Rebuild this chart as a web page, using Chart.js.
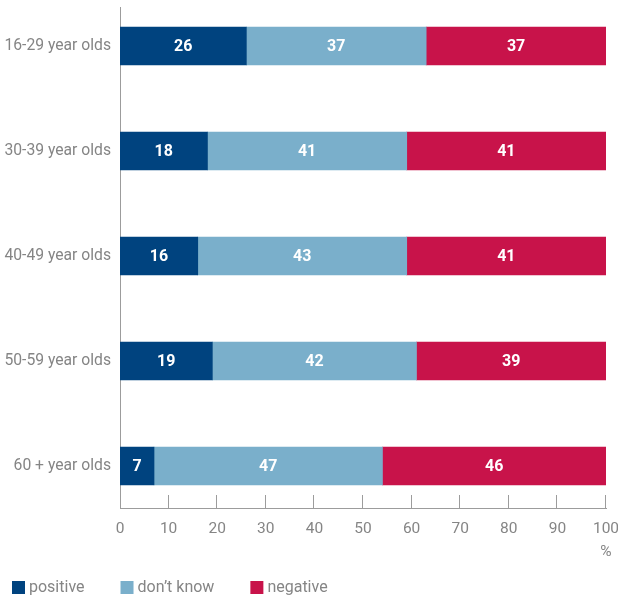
<!DOCTYPE html>
<html>
<head>
<meta charset="utf-8">
<script src="https://cdn.jsdelivr.net/npm/chart.js@4/dist/chart.umd.min.js"></script>
<style>
html,body{margin:0;padding:0;background:#fff;}
#wrap{width:618px;height:598px;}
</style>
</head>
<body>
<div id="wrap"><canvas id="c" width="618" height="598"></canvas></div>
<script>
const categories = ["16-29 year olds", "30-39 year olds", "40-49 year olds", "50-59 year olds", "60 + year olds"];
const positive = [26, 18, 16, 19, 7];
const dontKnow = [37, 41, 43, 42, 47];
const negative = [37, 41, 41, 39, 46];
const seriesNames = ["positive", "don\u2019t know", "negative"];
const seriesColors = ["#00437F", "#7AAFCB", "#C8134A"];
const xTicks = [0, 10, 20, 30, 40, 50, 60, 70, 80, 90, 100];

const FONT = "Roboto, 'Open Sans', sans-serif";
const GREY = "#858585";
const AXIS = "#9c9c9c";
const Y_MIN = -0.371, Y_MAX = 4.4;

function toPoints(arr){ return arr.map((v,i)=>({x:v, y:i})); }
function zeroPad(scale){
  scale.paddingTop = 0; scale.paddingBottom = 0;
  scale.paddingLeft = 0; scale.paddingRight = 0;
}

const valueLabels = {
  id: 'valueLabels',
  afterDatasetsDraw(chart){
    const ctx = chart.ctx;
    ctx.save();
    ctx.fillStyle = '#fff';
    ctx.font = "bold 16px " + FONT;
    ctx.textAlign = 'center';
    ctx.textBaseline = 'middle';
    chart.data.datasets.forEach((ds, di)=>{
      const meta = chart.getDatasetMeta(di);
      meta.data.forEach((el, i)=>{
        const p = el.getCenterPoint();
        ctx.fillText(String(ds.data[i].x), p.x, p.y + 1);
      });
    });
    ctx.restore();
  }
};

const innerTicks = {
  id: 'innerTicks',
  afterDraw(chart){
    const ctx = chart.ctx;
    const xs = chart.scales.x;
    const bottom = chart.chartArea.bottom;
    ctx.save();
    ctx.strokeStyle = AXIS;
    ctx.lineWidth = 1;
    xTicks.forEach(v=>{
      if (v === 0) return;
      const px = Math.round(xs.getPixelForValue(v)) - 0.5;
      ctx.beginPath();
      ctx.moveTo(px, bottom - 13);
      ctx.lineTo(px, bottom);
      ctx.stroke();
    });
    ctx.restore();
  }
};

const customLegend = {
  id: 'customLegend',
  afterDraw(chart){
    const ctx = chart.ctx;
    ctx.save();
    ctx.font = "16px " + FONT;
    ctx.textBaseline = 'middle';
    ctx.textAlign = 'left';
    let x = 12;
    const yTop = 581, box = 13;
    seriesNames.forEach((name, i)=>{
      ctx.fillStyle = seriesColors[i];
      ctx.fillRect(x, yTop, box, box);
      ctx.fillStyle = GREY;
      ctx.fillText(name, x + box + 4, yTop + box/2);
      x += box + 4 + ctx.measureText(name).width + 36;
    });
    ctx.restore();
  }
};

const datasets = [positive, dontKnow, negative].map((arr, i)=>({
  label: seriesNames[i],
  data: toPoints(arr),
  backgroundColor: seriesColors[i],
  borderWidth: 0,
  barThickness: 38
}));

new Chart(document.getElementById('c'), {
  type: 'bar',
  data: { datasets },
  options: {
    indexAxis: 'y',
    responsive: false,
    animation: false,
    layout: { padding: { top: 7, right: 12, left: 0, bottom: 0 } },
    plugins: { legend: { display: false }, tooltip: { enabled: false } },
    scales: {
      x: {
        type: 'linear',
        stacked: true,
        min: 0, max: 100,
        grid: { display: false, drawTicks: false },
        border: { display: true, color: AXIS, width: 1 },
        afterBuildTicks(scale){ scale.ticks = xTicks.map(v=>({value:v})); },
        afterFit(scale){ scale.height = 90; zeroPad(scale); },
        ticks: {
          color: GREY,
          padding: 9,
          maxRotation: 0,
          autoSkip: false,
          font: { family: FONT, size: 15.5, lineHeight: 1.5 },
          callback: (v)=> v === 100 ? ['100', '%'] : String(v)
        }
      },
      y: {
        type: 'linear',
        stacked: true,
        reverse: true,
        offset: false,
        bounds: 'data',
        grace: 0,
        min: Y_MIN, max: Y_MAX,
        grid: { display: false, drawTicks: false, offset: false },
        border: { display: true, color: AXIS, width: 1 },
        afterBuildTicks(scale){
          scale.ticks = categories.map((c,i)=>({value:i}));
          scale.min = Y_MIN; scale.max = Y_MAX;
        },
        afterFit(scale){ scale.width = 120; zeroPad(scale); },
        ticks: {
          color: GREY,
          padding: 9,
          autoSkip: false,
          font: { family: FONT, size: 15.7 },
          callback: (v)=> categories[v] !== undefined ? categories[v] : ''
        }
      }
    }
  },
  plugins: [valueLabels, innerTicks, customLegend]
});
</script>
</body>
</html>
